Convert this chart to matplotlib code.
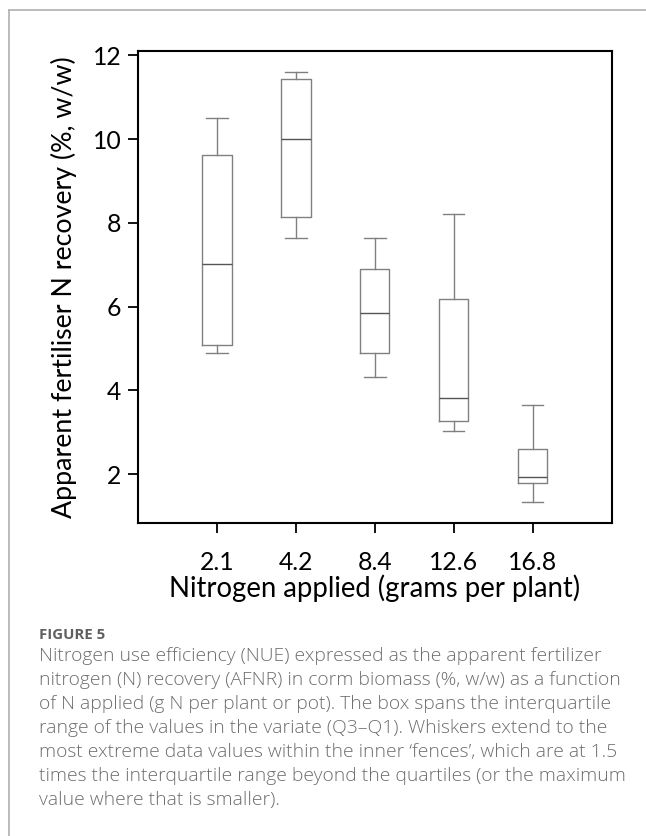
import matplotlib.pyplot as plt
from matplotlib.lines import Line2D

plt.rcParams['font.family'] = ['Lato', 'DejaVu Sans']

# data
n_applied = ['2.1', '4.2', '8.4', '12.6', '16.8']
whisker_lo = [4.89, 7.63, 4.33, 3.03, 1.33]
q1 = [5.09, 8.15, 4.90, 3.26, 1.78]
median = [7.01, 9.99, 5.84, 3.81, 1.94]
q3 = [9.63, 11.43, 6.91, 6.18, 2.61]
whisker_hi = [10.51, 11.59, 7.63, 8.21, 3.65]

caption = ("Nitrogen use efficiency (NUE) expressed as the apparent fertilizer\n"
           "nitrogen (N) recovery (AFNR) in corm biomass (%, w/w) as a function\n"
           "of N applied (g N per plant or pot). The box spans the interquartile\n"
           "range of the values in the variate (Q3\u2013Q1). Whiskers extend to the\n"
           "most extreme data values within the inner \u2018fences\u2019, which are at 1.5\n"
           "times the interquartile range beyond the quartiles (or the maximum\n"
           "value where that is smaller).")

stats = []
for i, lab in enumerate(n_applied):
    stats.append(dict(label=lab, whislo=whisker_lo[i], q1=q1[i], med=median[i],
                      q3=q3[i], whishi=whisker_hi[i], fliers=[]))

fig = plt.figure(figsize=(6.46, 8.36), dpi=100)

# light frame around the figure panel (left and top only visible)
fig.add_artist(Line2D([9 / 646, 9 / 646], [0, 1 - 9.7 / 836], color='#b0b0b0', lw=1.2))
fig.add_artist(Line2D([9 / 646, 1], [1 - 9.7 / 836, 1 - 9.7 / 836], color='#b0b0b0', lw=1.2))

ax = fig.add_axes([138 / 646, 1 - 523.3 / 836, (611.7 - 138) / 646, (523.3 - 51) / 836])

box_col = '#808080'
ax.bxp(stats, positions=range(1, 6), widths=0.37, showfliers=False,
       boxprops=dict(color=box_col, lw=1.0),
       whiskerprops=dict(color=box_col, lw=1.0),
       capprops=dict(color=box_col, lw=1.0),
       medianprops=dict(color='#555555', lw=1.0),
       capwidths=0.27)

ax.set_xlim(0, 6)
ax.set_ylim(0.83, 12.1)
ax.set_yticks([2, 4, 6, 8, 10, 12])
ax.set_xticks(range(1, 6))
ax.set_xticklabels(n_applied)
for s in ax.spines.values():
    s.set_linewidth(1.5)
ax.tick_params(direction='out', length=7, width=1.3, labelsize=17.8, pad=13)
ax.tick_params(axis='y', pad=5)

ax.set_xlabel('Nitrogen applied (grams per plant)', fontsize=19.8, labelpad=0)
ax.set_ylabel('Apparent fertiliser N recovery (%, w/w)', fontsize=19.3, labelpad=11)

fig.text(39 / 646, 1 - 635 / 836, 'FIGURE 5', fontsize=10.8, color='#606060',
         family=['Open Sans', 'DejaVu Sans'], weight='bold', va='center')
fig.text(39 / 646, 1 - 647 / 836, caption, fontsize=13.9, color='#6e6e6e',
         family=['Open Sans', 'DejaVu Sans'], weight='light', va='top',
         linespacing=1.43)

fig.savefig('out.png', dpi=100)
